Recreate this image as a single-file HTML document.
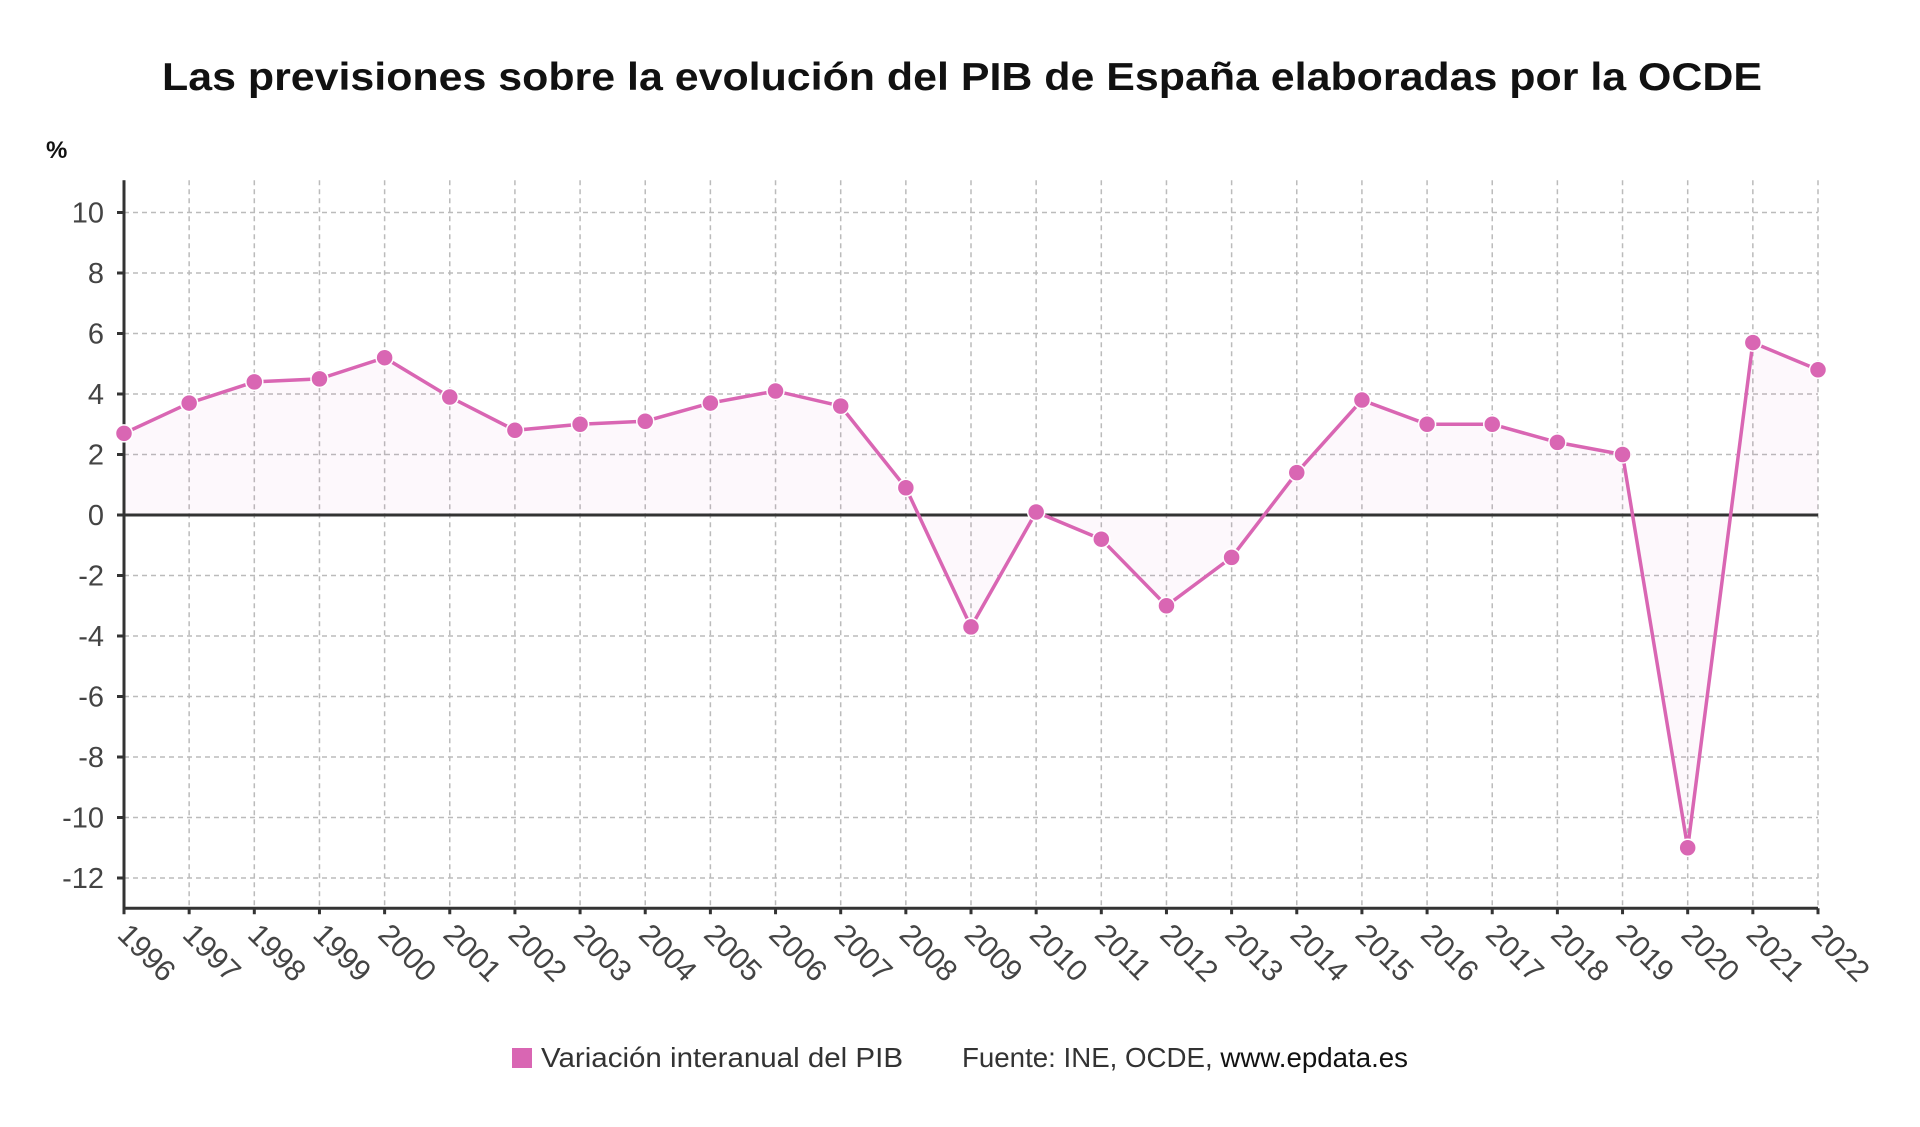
<!DOCTYPE html>
<html><head><meta charset="utf-8"><style>
html,body{margin:0;padding:0;background:#fff;}
svg{display:block;font-family:"Liberation Sans",sans-serif;}
</style></head><body>
<svg id="chart" width="1920" height="1127" viewBox="0 0 1920 1127">
<text x="962" y="90" text-anchor="middle" font-size="39" font-weight="bold" fill="#111" textLength="1600" lengthAdjust="spacingAndGlyphs">Las previsiones sobre la evolución del PIB de España elaboradas por la OCDE</text>
<text x="46" y="158" font-size="24" font-weight="bold" fill="#111">%</text>
<g id="grid"></g><g id="area"></g><g id="axes"></g><g id="series"></g><g id="labels"></g>
<rect x="512" y="1048" width="20" height="20" fill="#d966b3"/>
<text x="541" y="1067" font-size="28" fill="#333" textLength="362" lengthAdjust="spacingAndGlyphs">Variación interanual del PIB</text>
<text x="962" y="1067" font-size="28" fill="#333" textLength="446" lengthAdjust="spacingAndGlyphs">Fuente: INE, OCDE, <tspan fill="#111">www.epdata.es</tspan></text>
</svg>
<script>
const years=[1996,1997,1998,1999,2000,2001,2002,2003,2004,2005,2006,2007,2008,2009,2010,2011,2012,2013,2014,2015,2016,2017,2018,2019,2020,2021,2022];
const gdp=[2.7,3.7,4.4,4.5,5.2,3.9,2.8,3.0,3.1,3.7,4.1,3.6,0.9,-3.7,0.1,-0.8,-3.0,-1.4,1.4,3.8,3.0,3.0,2.4,2.0,-11.0,5.7,4.8];
const yTicks=[10,8,6,4,2,0,-2,-4,-6,-8,-10,-12];
const NS="http://www.w3.org/2000/svg";
const x0=124,x1=1818,yMin=-13,yMax=11;
function X(i){return x0+(x1-x0)*i/(years.length-1);}
function Y(v){return 515-v*30.25;}
function mk(t,a,p){const e=document.createElementNS(NS,t);for(const k in a)e.setAttribute(k,a[k]);p.appendChild(e);return e;}
const grid=document.getElementById('grid'),axes=document.getElementById('axes'),ser=document.getElementById('series'),lab=document.getElementById('labels'),area=document.getElementById('area');
yTicks.forEach(v=>{
 const l=mk('line',{x1:x0,x2:x1,y1:Y(v),y2:Y(v),stroke:'#bbb','stroke-width':1.5,'stroke-dasharray':'5,4'},grid);
 
 
 mk('line',{x1:x0-7,x2:x0,y1:Y(v),y2:Y(v),stroke:'#333','stroke-width':3},axes);
 const t=mk('text',{x:x0-20,y:Y(v)+10,'text-anchor':'end','font-size':29,fill:'#444'},lab);
 t.textContent=v;
 
 
});
years.forEach((yr,i)=>{
 const l=mk('line',{x1:X(i),x2:X(i),y1:Y(yMax)-2,y2:Y(yMin),stroke:'#bbb','stroke-width':1.5,'stroke-dasharray':'5,4'},grid);
 
 
 mk('line',{x1:X(i),x2:X(i),y1:Y(yMin),y2:Y(yMin)+6,stroke:'#333','stroke-width':3},axes);
 const t=mk('text',{x:0,y:0,'font-size':30,fill:'#444',transform:`translate(${X(i)-8},${Y(yMin)+28}) rotate(45)`},lab);
 t.textContent=yr;
 
 
});
let d=`M${X(0)},${Y(0)}`;gdp.forEach((v,i)=>d+=` L${X(i)},${Y(v)}`);d+=` L${X(gdp.length-1)},${Y(0)} Z`;
const ar=mk('path',{d:d,fill:'#d966b3','fill-opacity':0.045},area);


const yl=mk('line',{x1:x0,x2:x0,y1:Y(yMax)-2,y2:Y(yMin)+1,stroke:'#333','stroke-width':3},axes);


const xl=mk('line',{x1:x0,x2:x1,y1:Y(yMin),y2:Y(yMin),stroke:'#333','stroke-width':3},axes);


const zl=mk('line',{x1:x0,x2:x1,y1:Y(0),y2:Y(0),stroke:'#333','stroke-width':3},axes);


const pl=mk('polyline',{points:gdp.map((v,i)=>X(i)+','+Y(v)).join(' '),fill:'none',stroke:'#d966b3','stroke-width':3.5},ser);


gdp.forEach((v,i)=>{
 const c=mk('circle',{cx:X(i),cy:Y(v),r:8.5,fill:'#d966b3',stroke:'#fff','stroke-width':1.5},ser);
 
 
});
</script>
</body></html>
